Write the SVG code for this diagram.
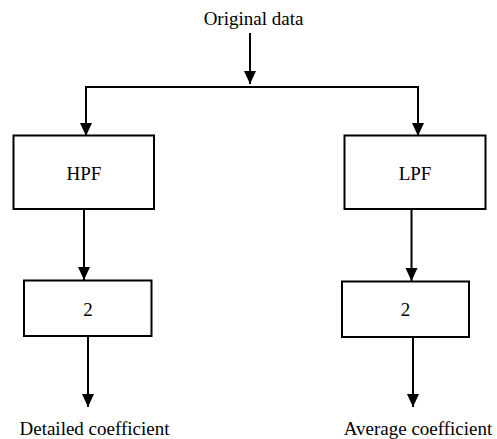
<svg xmlns="http://www.w3.org/2000/svg" width="497" height="439" viewBox="0 0 497 439">
<style>
.box{fill:#fff;stroke:#000;stroke-width:2}
.t{font-size:19px;fill:#000;text-anchor:middle}
.c{fill:none;stroke:#000;stroke-width:2}
</style>
<defs>
<marker id="ah" markerUnits="userSpaceOnUse" markerWidth="14" markerHeight="14" viewBox="0 0 14 14" refX="13" refY="7" orient="auto">
<path d="M0,1 L13,7 L0,13 Z" fill="#000"/>
</marker>
</defs>
<rect width="497" height="439" fill="#fff"/>
<g id="connectors">
<line class="c" x1="250" y1="33" x2="250" y2="84" marker-end="url(#ah)"/>
<line class="c" x1="85" y1="87" x2="419" y2="87"/>
<line class="c" x1="86" y1="86" x2="86" y2="136" marker-end="url(#ah)"/>
<line class="c" x1="418" y1="86" x2="418" y2="136" marker-end="url(#ah)"/>
<line class="c" x1="84" y1="209" x2="84" y2="280" marker-end="url(#ah)"/>
<line class="c" x1="411.5" y1="209" x2="411.5" y2="281" marker-end="url(#ah)"/>
<line class="c" x1="88" y1="336" x2="88" y2="407" marker-end="url(#ah)"/>
<line class="c" x1="413" y1="337" x2="413" y2="407" marker-end="url(#ah)"/>
</g>
<g font-family="Liberation Serif, Times New Roman, serif">
<g id="original"><text class="t" x="253.5" y="25">Original data</text></g>
<g id="hpf"><rect class="box" x="13.5" y="135.5" width="140.5" height="73.5"/><text class="t" x="84" y="180">HPF</text></g>
<g id="lpf"><rect class="box" x="344.5" y="135.5" width="141" height="73.5"/><text class="t" x="415" y="180">LPF</text></g>
<g id="down1"><rect class="box" x="24" y="280.5" width="127.5" height="55.5"/><text class="t" x="88" y="316">2</text></g>
<g id="down2"><rect class="box" x="342" y="281.5" width="127" height="55.5"/><text class="t" x="405.5" y="316">2</text></g>
<g id="detail"><text class="t" x="94.5" y="435">Detailed coefficient</text></g>
<g id="average"><text class="t" x="418" y="435">Average coefficient</text></g>
</g>
</svg>
